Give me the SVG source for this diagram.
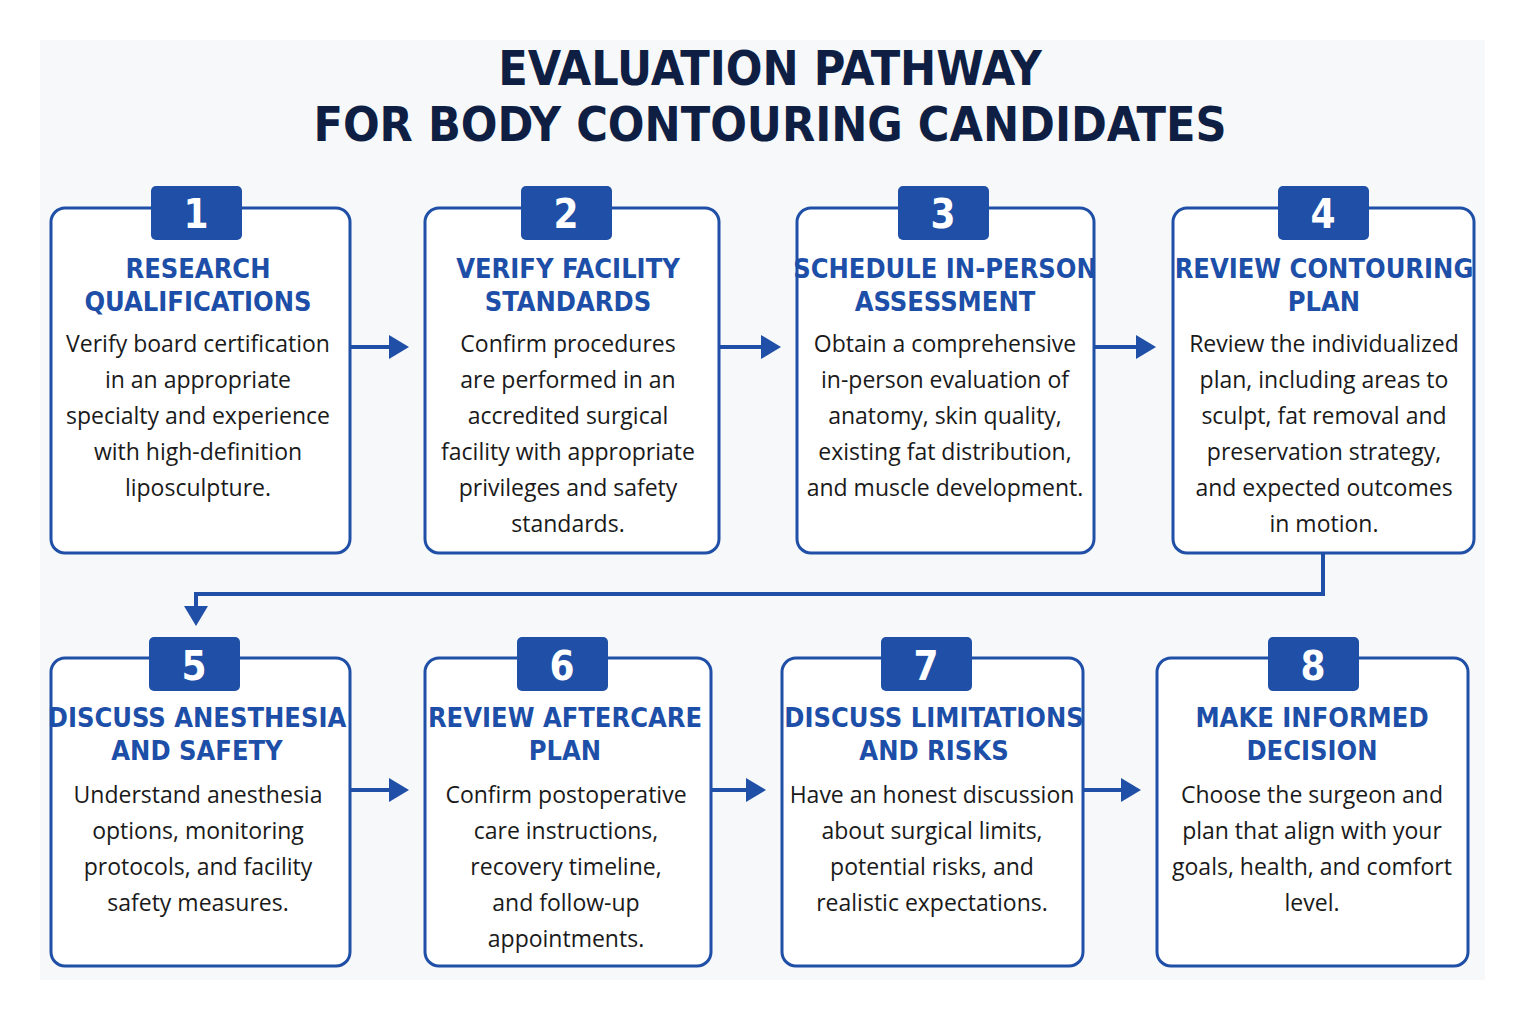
<svg xmlns="http://www.w3.org/2000/svg" width="1525" height="1014" viewBox="0 0 1525 1014">
<style>
.title{font-family:"DejaVu Sans Condensed","DejaVu Sans",sans-serif;font-weight:bold;font-size:48px;fill:#0f1f44;text-anchor:middle}
.box{fill:#fff;stroke:#1f4fa6;stroke-width:3}
.badge{fill:#1f4fa6}
.num{font-family:"DejaVu Sans Condensed","DejaVu Sans",sans-serif;font-weight:bold;font-size:40px;fill:#fff;text-anchor:middle}
.head{font-family:"DejaVu Sans Condensed","DejaVu Sans",sans-serif;font-weight:bold;font-size:27px;fill:#1d4fa8;text-anchor:middle}
.body{font-family:"Open Sans","Liberation Sans",sans-serif;font-size:23px;fill:#1a1a1a;text-anchor:middle}
.conn{fill:none;stroke:#1f4fa6;stroke-width:4}
</style>
<defs><marker id="ah" markerWidth="6" markerHeight="6" refX="4" refY="3" orient="auto" markerUnits="strokeWidth"><path d="M0,0 L5,3 L0,6 z" fill="#1f4fa6"/></marker></defs>
<rect width="1525" height="1014" fill="#fff"/>
<rect x="40" y="40" width="1445" height="940" fill="#f7f8fa"/>
<text class="title" x="770" y="85">EVALUATION PATHWAY</text>
<text class="title" x="770" y="141">FOR BODY CONTOURING CANDIDATES</text>
<g id="connectors">
<line class="conn" x1="350" y1="347" x2="405" y2="347" marker-end="url(#ah)"/>
<line class="conn" x1="719" y1="347" x2="777" y2="347" marker-end="url(#ah)"/>
<line class="conn" x1="1094" y1="347" x2="1152" y2="347" marker-end="url(#ah)"/>
<path class="conn" d="M1323,553 V594 H196 V622" marker-end="url(#ah)"/>
<line class="conn" x1="350" y1="790" x2="405" y2="790" marker-end="url(#ah)"/>
<line class="conn" x1="711" y1="790" x2="762" y2="790" marker-end="url(#ah)"/>
<line class="conn" x1="1083" y1="790" x2="1137" y2="790" marker-end="url(#ah)"/>
</g>
<g id="n1"><rect class="box" x="51" y="208" width="299" height="345" rx="14"/><rect class="badge" x="151" y="186" width="91" height="54" rx="5"/><text class="num" x="196" y="228">1</text>
<text class="head" x="198" y="278">RESEARCH</text><text class="head" x="198" y="311">QUALIFICATIONS</text>
<text class="body" x="198" y="352">Verify board certification</text><text class="body" x="198" y="388">in an appropriate</text><text class="body" x="198" y="424">specialty and experience</text><text class="body" x="198" y="460">with high-definition</text><text class="body" x="198" y="496">liposculpture.</text></g>
<g id="n2"><rect class="box" x="425" y="208" width="294" height="345" rx="14"/><rect class="badge" x="521" y="186" width="91" height="54" rx="5"/><text class="num" x="566" y="228">2</text>
<text class="head" x="568" y="278">VERIFY FACILITY</text><text class="head" x="568" y="311">STANDARDS</text>
<text class="body" x="568" y="352">Confirm procedures</text><text class="body" x="568" y="388">are performed in an</text><text class="body" x="568" y="424">accredited surgical</text><text class="body" x="568" y="460">facility with appropriate</text><text class="body" x="568" y="496">privileges and safety</text><text class="body" x="568" y="532">standards.</text></g>
<g id="n3"><rect class="box" x="797" y="208" width="297" height="345" rx="14"/><rect class="badge" x="898" y="186" width="91" height="54" rx="5"/><text class="num" x="943" y="228">3</text>
<text class="head" x="945" y="278">SCHEDULE IN-PERSON</text><text class="head" x="945" y="311">ASSESSMENT</text>
<text class="body" x="945" y="352">Obtain a comprehensive</text><text class="body" x="945" y="388">in-person evaluation of</text><text class="body" x="945" y="424">anatomy, skin quality,</text><text class="body" x="945" y="460">existing fat distribution,</text><text class="body" x="945" y="496">and muscle development.</text></g>
<g id="n4"><rect class="box" x="1173" y="208" width="301" height="345" rx="14"/><rect class="badge" x="1278" y="186" width="91" height="54" rx="5"/><text class="num" x="1323" y="228">4</text>
<text class="head" x="1324" y="278">REVIEW CONTOURING</text><text class="head" x="1324" y="311">PLAN</text>
<text class="body" x="1324" y="352">Review the individualized</text><text class="body" x="1324" y="388">plan, including areas to</text><text class="body" x="1324" y="424">sculpt, fat removal and</text><text class="body" x="1324" y="460">preservation strategy,</text><text class="body" x="1324" y="496">and expected outcomes</text><text class="body" x="1324" y="532">in motion.</text></g>
<g id="n5"><rect class="box" x="51" y="658" width="299" height="308" rx="14"/><rect class="badge" x="149" y="637" width="91" height="54" rx="5"/><text class="num" x="194" y="680">5</text>
<text class="head" x="197" y="727">DISCUSS ANESTHESIA</text><text class="head" x="197" y="760">AND SAFETY</text>
<text class="body" x="198" y="803">Understand anesthesia</text><text class="body" x="198" y="839">options, monitoring</text><text class="body" x="198" y="875">protocols, and facility</text><text class="body" x="198" y="911">safety measures.</text></g>
<g id="n6"><rect class="box" x="425" y="658" width="286" height="308" rx="14"/><rect class="badge" x="517" y="637" width="91" height="54" rx="5"/><text class="num" x="562" y="680">6</text>
<text class="head" x="565" y="727">REVIEW AFTERCARE</text><text class="head" x="565" y="760">PLAN</text>
<text class="body" x="566" y="803">Confirm postoperative</text><text class="body" x="566" y="839">care instructions,</text><text class="body" x="566" y="875">recovery timeline,</text><text class="body" x="566" y="911">and follow-up</text><text class="body" x="566" y="947">appointments.</text></g>
<g id="n7"><rect class="box" x="782" y="658" width="301" height="308" rx="14"/><rect class="badge" x="881" y="637" width="91" height="54" rx="5"/><text class="num" x="926" y="680">7</text>
<text class="head" x="934" y="727">DISCUSS LIMITATIONS</text><text class="head" x="934" y="760">AND RISKS</text>
<text class="body" x="932" y="803">Have an honest discussion</text><text class="body" x="932" y="839">about surgical limits,</text><text class="body" x="932" y="875">potential risks, and</text><text class="body" x="932" y="911">realistic expectations.</text></g>
<g id="n8"><rect class="box" x="1157" y="658" width="311" height="308" rx="14"/><rect class="badge" x="1268" y="637" width="91" height="54" rx="5"/><text class="num" x="1313" y="680">8</text>
<text class="head" x="1312" y="727">MAKE INFORMED</text><text class="head" x="1312" y="760">DECISION</text>
<text class="body" x="1312" y="803">Choose the surgeon and</text><text class="body" x="1312" y="839">plan that align with your</text><text class="body" x="1312" y="875">goals, health, and comfort</text><text class="body" x="1312" y="911">level.</text></g>
</svg>
